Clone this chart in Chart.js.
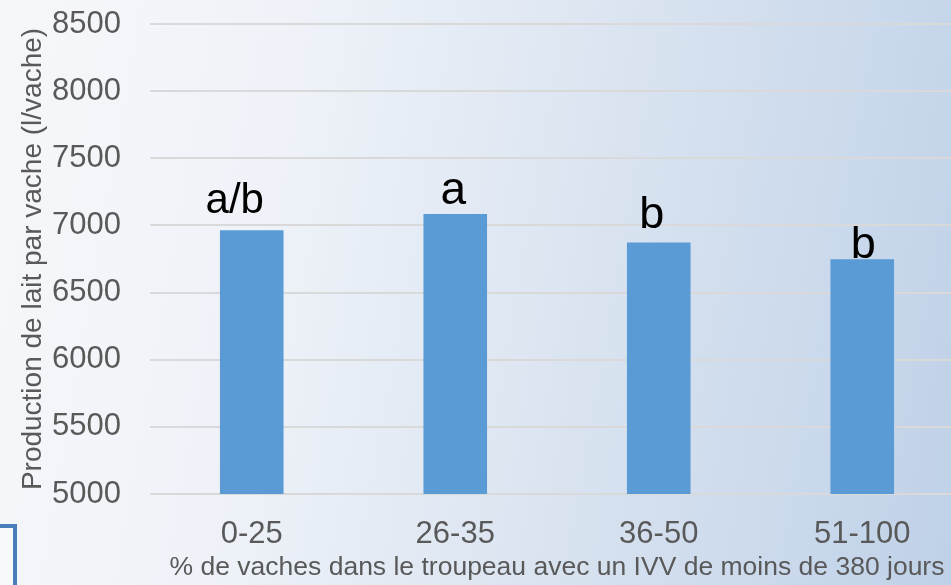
<!DOCTYPE html>
<html>
<head>
<meta charset="UTF-8">
<style>
  html, body { margin: 0; padding: 0; overflow: hidden; }
  body {
    width: 951px; height: 585px; position: relative;
    background: linear-gradient(100deg, #f6f7fa 0%, #eef2f8 30%, #d9e3f0 62%, #bfd1e8 100%);
  }
  #c { position: absolute; left: 0; top: 0; }
  .box {
    position: absolute; left: -20px; top: 524px; width: 29px; height: 80px;
    border: 4px solid #4a7ebb; background: #f8f9fb;
  }
</style>
</head>
<body>
<div class="box"></div>
<canvas id="c" width="964" height="585"></canvas>
<script src="https://cdn.jsdelivr.net/npm/chart.js"></script>
<script>
// data
var categories = ["0-25", "26-35", "36-50", "51-100"];
var production = [6965, 7086, 6873, 6749];
var letters = ["a/b", "a", "b", "b"];
var yTicks = [5000, 5500, 6000, 6500, 7000, 7500, 8000, 8500];

// style for the letters above the bars
var letterSize = [42, 46, 45, 45];
var letterDx = [-17, -2, -7, 1];
var letterDy = [-17, -10, -14, -1];

var letterPlugin = {
  id: "letters",
  afterDatasetsDraw: function (chart) {
    var ctx = chart.ctx;
    var meta = chart.getDatasetMeta(0);
    ctx.save();
    ctx.fillStyle = "#000000";
    ctx.textAlign = "center";
    ctx.textBaseline = "alphabetic";
    meta.data.forEach(function (bar, i) {
      ctx.font = letterSize[i] + "px 'Liberation Sans', Arial, sans-serif";
      ctx.fillText(letters[i], bar.x + letterDx[i], bar.y + letterDy[i]);
    });
    ctx.restore();
  }
};

var fontFam = "'Liberation Sans', Arial, sans-serif";

new Chart(document.getElementById("c"), {
  type: "bar",
  data: {
    labels: categories,
    datasets: [{
      data: production,
      backgroundColor: "#5b9bd5",
      borderWidth: 0,
      barPercentage: 0.3125,
      categoryPercentage: 1
    }]
  },
  options: {
    responsive: false,
    animation: false,
    layout: { padding: { top: 24, right: 0, left: 0, bottom: 0 } },
    plugins: { legend: { display: false }, tooltip: { enabled: false } },
    scales: {
      x: {
        grid: { display: false, drawTicks: false },
        border: { display: false },
        ticks: { color: "#595959", font: { family: fontFam, size: 31 }, padding: 22 },
        title: {
          display: true,
          text: "% de vaches dans le troupeau avec un IVV de moins de 380 jours",
          color: "#595959",
          font: { family: fontFam, size: 26.5 },
          padding: { top: 0, bottom: 1 }
        },
        afterFit: function (s) { s.height = 91; s.paddingLeft = 0; s.paddingRight = 0; }
      },
      y: {
        min: 5000,
        max: 8500,
        afterBuildTicks: function (s) { s.ticks = yTicks.map(function (v) { return { value: v }; }); },
        grid: { color: "#d9d9d9", lineWidth: 2, drawTicks: false },
        border: { display: false },
        ticks: {
          color: "#595959", font: { family: fontFam, size: 31 }, padding: 29,
          callback: function (v) { return String(v); }
        },
        title: {
          display: true,
          text: "Production de lait par vache (l/vache)",
          color: "#595959",
          font: { family: fontFam, size: 28 },
          padding: { top: 16, bottom: 0 }
        },
        afterFit: function (s) { s.width = 150; s.paddingTop = 0; s.paddingBottom = 0; }
      }
    }
  },
  plugins: [letterPlugin]
});
</script>
</body>
</html>
